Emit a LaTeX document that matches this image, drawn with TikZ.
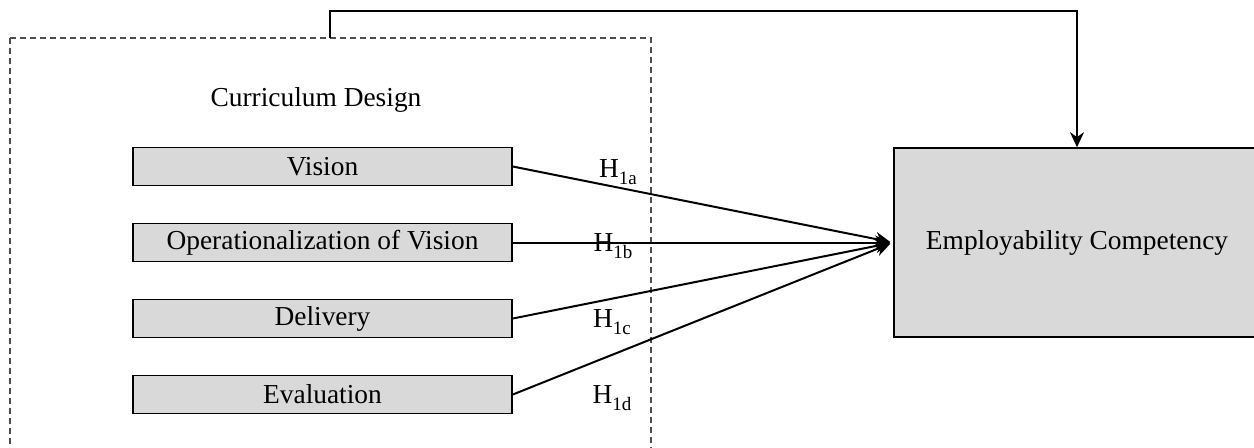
\documentclass[tikz,border=0pt]{standalone}
\usepackage{fontspec}
\setmainfont{Liberation Serif}
\usepackage{tikz}
\usetikzlibrary{arrows.meta,positioning}

\definecolor{boxgray}{HTML}{D9D9D9}
\newcommand{\hyp}[1]{H\raisebox{-0.5ex}{\fontsize{9.5}{10}\selectfont #1}}

\tikzset{
  dimbox/.style = {draw, line width=0.8pt, fill=boxgray, rectangle,
                   minimum width=189.5pt, minimum height=19pt, inner sep=0pt},
  outbox/.style = {draw, line width=0.8pt, fill=boxgray, rectangle,
                   minimum width=183pt, minimum height=94.5pt, inner sep=0pt},
  hlabel/.style = {inner sep=0pt}
}

\begin{document}
\begin{tikzpicture}
    [x=0.5pt, y=-0.5pt, >={Stealth[length=7.5pt,width=7pt]}, shorten >= 1.5pt,
     node distance = 38pt, on grid, font=\fontsize{13.7}{16}\selectfont]
\useasboundingbox (0,0) rectangle (1254,447);

% dashed frame round the curriculum design block
\draw[gray!60!black, line width=0.6pt, dash pattern=on 3pt off 2pt]
    (10,38) rectangle (651,470);
\node (cd) at (316,100) {Curriculum Design};

\node[dimbox](vis) at (322.5,166.5) {Vision};
\node[dimbox](opv)[below = of vis]{Operationalization of Vision};
\node[dimbox](del)[below = of opv]{Delivery};
\node[dimbox](eva)[below = of del]{Evaluation};

\node[outbox](emp) at (1077,242.5) {Employability Competency};

\node[hlabel](h1a) at (618,172) {\hyp{1a}};
\node[hlabel](h1b) at (613,246) {\hyp{1b}};
\node[hlabel](h1c) at (612,322) {\hyp{1c}};
\node[hlabel](h1d) at (612,398) {\hyp{1d}};

\coordinate (top) at (330,38);
\coordinate (bend) at (330,11);

\draw[->, line width=1pt, shorten >= 0pt] (top) -- (bend) -| (emp.north);
\path[->, line width=1pt]
    (vis.east) edge (emp.west)
    (opv.east) edge (emp.west)
    (del.east) edge (emp.west)
    (eva.east) edge (emp.west);
\end{tikzpicture}
\end{document}
